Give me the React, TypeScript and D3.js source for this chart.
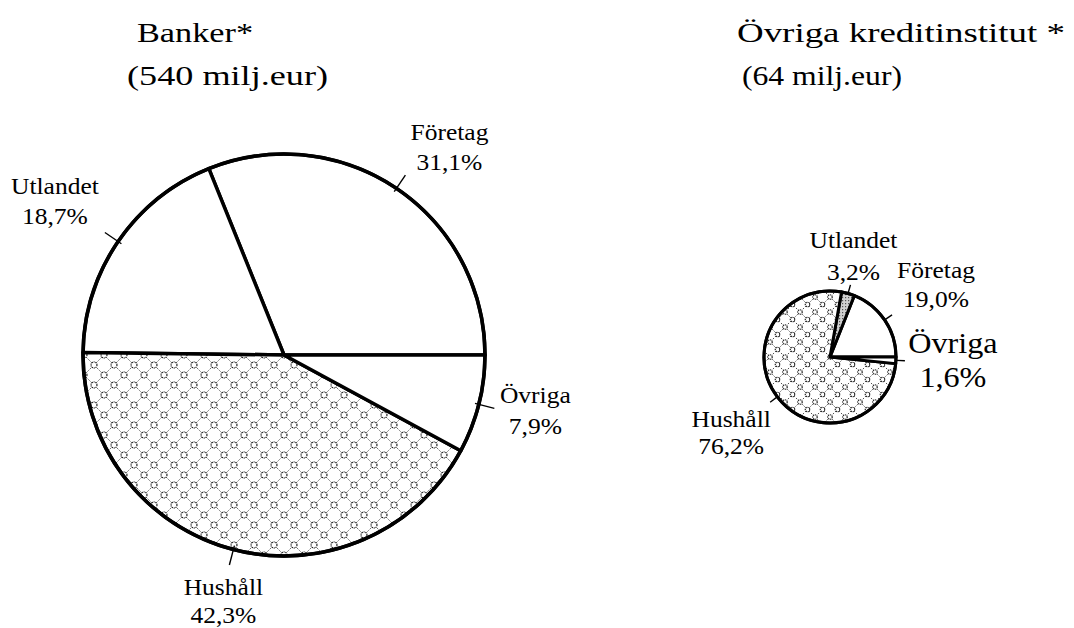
import React from "react";
import * as d3 from "d3";

// sectors, counter-clockwise from 3 o'clock
const categories = ["Företag", "Utlandet", "Hushåll", "Övriga"];
const bankShares = [31.1, 18.7, 42.3, 7.9];
const otherShares = [19.0, 3.2, 76.2, 1.6];

const bankTitle = ["Banker*", "(540 milj.eur)"];
const otherTitle = ["Övriga kreditinstitut *", "(64 milj.eur)"];

const W = 1074;
const H = 628;
const FONT = "Liberation Serif, Times New Roman, Times, serif";

const fmt = (v: number) => v.toFixed(1).replace(".", ",") + "%";

type PieCfg = {
  id: string;
  values: number[];
  cx: number;
  cy: number;
  r: number;
  stroke: number;
  leadIn: number;
  leadOut: number;
  tile: number;
  fontSize: number;
  nudge: Record<string, [number, number]>;
  lineGap: Record<string, number>;
  bigLabel?: string;
  grayCat?: string;
};

const pies: PieCfg[] = [
  {
    id: "bank",
    values: bankShares,
    cx: 284,
    cy: 355,
    r: 201,
    stroke: 3.5,
    leadIn: -4,
    leadOut: 16,
    tile: 20,
    fontSize: 23,
    nudge: { Företag: [44, -35], Utlandet: [-50, -38], Hushåll: [-6, 30], Övriga: [41, -5] },
    lineGap: { Företag: 30, Utlandet: 30, Hushåll: 28, Övriga: 31 },
  },
  {
    id: "other",
    values: otherShares,
    cx: 830,
    cy: 357,
    r: 66,
    stroke: 3,
    leadIn: 1,
    leadOut: 9,
    tile: 15,
    fontSize: 23,
    nudge: { Företag: [44, -37], Utlandet: [3, -37], Hushåll: [-39, 25], Övriga: [48, -8] },
    lineGap: { Företag: 29, Utlandet: 32, Hushåll: 27, Övriga: 34 },
    bigLabel: "Övriga",
    grayCat: "Utlandet",
  },
];

const Lattice = ({ id, s }: { id: string; s: number }) => {
  const h = s / 2;
  const knots = [
    [0, 0],
    [s, 0],
    [0, s],
    [s, s],
    [h, h],
  ];
  return (
    <pattern id={id} width={s} height={s} patternUnits="userSpaceOnUse">
      <rect width={s} height={s} fill="#fff" />
      <path
        d={`M0,0L${s},${s}M${s},0L0,${s}`}
        stroke="#333"
        strokeWidth={1}
        strokeDasharray="1.2 1.4"
      />
      {knots.map(([x, y], i) => (
        <circle
          key={i}
          cx={x}
          cy={y}
          r={s * 0.15}
          fill="#fff"
          stroke="#111"
          strokeWidth={1.1}
          strokeDasharray="1.2 0.7"
        />
      ))}
    </pattern>
  );
};

const Pie = ({ cfg }: { cfg: PieCfg }) => {
  const data = cfg.values.map((v, i) => ({ name: categories[i], value: v }));
  const arcs = d3
    .pie<{ name: string; value: number }>()
    .sort(null)
    .value((d) => d.value)
    .startAngle(Math.PI / 2)
    .endAngle(Math.PI / 2 - 2 * Math.PI)(data);
  const arc = d3
    .arc<d3.PieArcDatum<{ name: string; value: number }>>()
    .innerRadius(0)
    .outerRadius(cfg.r);

  const fillOf = (name: string) => {
    if (name === "Hushåll") return `url(#lat-${cfg.id})`;
    if (name === cfg.grayCat) return "url(#stipple)";
    return "#fff";
  };

  return (
    <g transform={`translate(${cfg.cx},${cfg.cy})`}>
      {arcs.map((a) => (
        <path
          key={a.data.name}
          d={arc(a) || ""}
          fill={fillOf(a.data.name)}
          stroke="#000"
          strokeWidth={cfg.stroke}
          strokeLinejoin="round"
        />
      ))}
      <circle r={cfg.r} fill="none" stroke="#000" strokeWidth={cfg.stroke} />
      {arcs.map((a) => {
        const m = (a.startAngle + a.endAngle) / 2;
        const r0 = cfg.r + cfg.leadIn;
        const r1 = cfg.r + cfg.leadOut;
        return (
          <line
            key={"l" + a.data.name}
            x1={Math.sin(m) * r0}
            y1={-Math.cos(m) * r0}
            x2={Math.sin(m) * r1}
            y2={-Math.cos(m) * r1}
            stroke="#000"
            strokeWidth={1.4}
          />
        );
      })}
      {arcs.map((a) => {
        const m = (a.startAngle + a.endAngle) / 2;
        const r1 = cfg.r + cfg.leadOut;
        const [dx, dy] = cfg.nudge[a.data.name];
        const x = Math.sin(m) * r1 + dx;
        const y = -Math.cos(m) * r1 + dy;
        const fs = a.data.name === cfg.bigLabel ? 29 : cfg.fontSize;
        return (
          <g key={"t" + a.data.name} transform={`translate(${x},${y}) scale(1.11,1)`}>
            <text textAnchor="middle" fontSize={fs} fontFamily={FONT}>
              {a.data.name}
            </text>
            <text y={cfg.lineGap[a.data.name]} textAnchor="middle" fontSize={fs} fontFamily={FONT}>
              {fmt(a.data.value)}
            </text>
          </g>
        );
      })}
    </g>
  );
};

export default function App() {
  return (
    <svg width={W} height={H} style={{ position: "absolute", left: 0, top: 0, background: "#fff" }}>
      <defs>
        {pies.map((p) => (
          <Lattice key={p.id} id={`lat-${p.id}`} s={p.tile} />
        ))}
        <pattern id="stipple" width={3} height={3} patternUnits="userSpaceOnUse">
          <rect width={3} height={3} fill="#d0d0d0" />
          <rect width={1.2} height={1.2} fill="#555" />
        </pattern>
      </defs>
      <rect width={W} height={H} fill="#fff" />

      <text x={137} y={42} fontSize={27} fontFamily={FONT} textLength={116} lengthAdjust="spacingAndGlyphs">
        {bankTitle[0]}
      </text>
      <text x={127} y={85} fontSize={27} fontFamily={FONT} textLength={201} lengthAdjust="spacingAndGlyphs">
        {bankTitle[1]}
      </text>
      <text x={737} y={42} fontSize={27} fontFamily={FONT} textLength={328} lengthAdjust="spacingAndGlyphs">
        {otherTitle[0]}
      </text>
      <text x={742} y={85} fontSize={27} fontFamily={FONT} textLength={160} lengthAdjust="spacingAndGlyphs">
        {otherTitle[1]}
      </text>

      {pies.map((p) => (
        <Pie key={p.id} cfg={p} />
      ))}
    </svg>
  );
}
